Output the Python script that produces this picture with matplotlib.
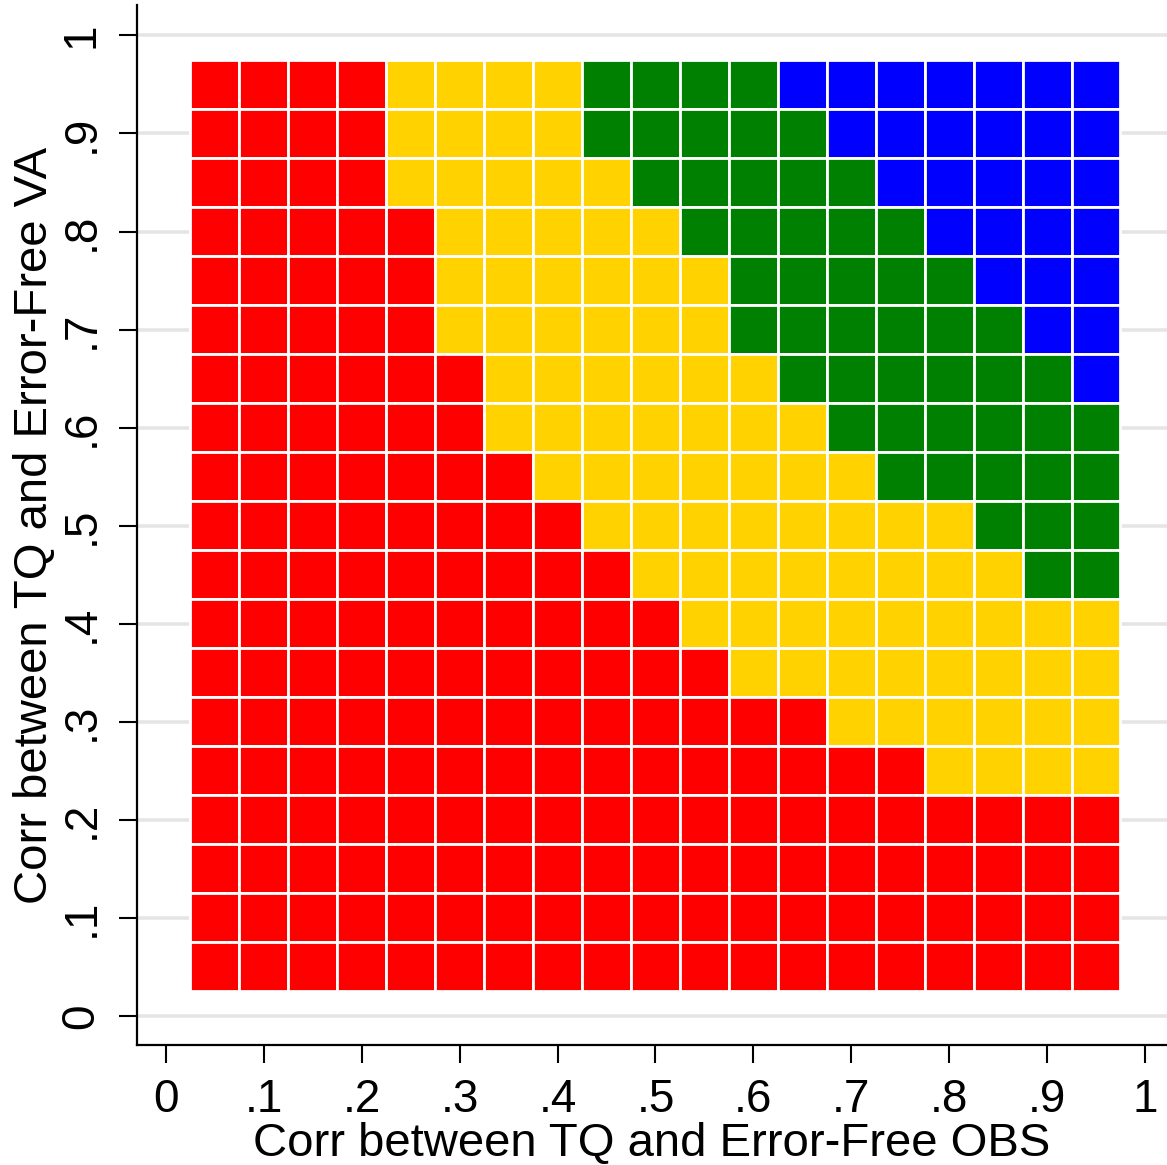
import numpy as np
import matplotlib
matplotlib.use('Agg')
import matplotlib.pyplot as plt

plt.rcParams['font.family'] = ['Liberation Sans', 'DejaVu Sans']

# cell centres on both axes
obs_vals = [0.05, 0.10, 0.15, 0.20, 0.25, 0.30, 0.35, 0.40, 0.45, 0.50,
            0.55, 0.60, 0.65, 0.70, 0.75, 0.80, 0.85, 0.90, 0.95]
va_vals = [0.95, 0.90, 0.85, 0.80, 0.75, 0.70, 0.65, 0.60, 0.55, 0.50,
           0.45, 0.40, 0.35, 0.30, 0.25, 0.20, 0.15, 0.10, 0.05]
# one string per VA row (top to bottom), one letter per OBS column
# R=red Y=yellow G=green B=blue
grid_rows = [
    "RRRRYYYYGGGGBBBBBBB",
    "RRRRYYYYGGGGGBBBBBB",
    "RRRRYYYYYGGGGGBBBBB",
    "RRRRRYYYYYGGGGGBBBB",
    "RRRRRYYYYYYGGGGGBBB",
    "RRRRRYYYYYYGGGGGGBB",
    "RRRRRRYYYYYYGGGGGGB",
    "RRRRRRYYYYYYYGGGGGG",
    "RRRRRRRYYYYYYYGGGGG",
    "RRRRRRRRYYYYYYYYGGG",
    "RRRRRRRRRYYYYYYYYGG",
    "RRRRRRRRRRYYYYYYYYY",
    "RRRRRRRRRRRYYYYYYYY",
    "RRRRRRRRRRRRRYYYYYY",
    "RRRRRRRRRRRRRRRYYYY",
    "RRRRRRRRRRRRRRRRRRR",
    "RRRRRRRRRRRRRRRRRRR",
    "RRRRRRRRRRRRRRRRRRR",
    "RRRRRRRRRRRRRRRRRRR",
]
tick_vals = [0, 0.1, 0.2, 0.3, 0.4, 0.5, 0.6, 0.7, 0.8, 0.9, 1]
tick_labels = ['0', '.1', '.2', '.3', '.4', '.5', '.6', '.7', '.8', '.9', '1']

colors = {'R': '#FF0000', 'Y': '#FFD200', 'G': '#008000', 'B': '#0000FF'}

fig = plt.figure(figsize=(11.67, 11.65), dpi=100)
ax = fig.add_axes([0.1174, 0.1030, 0.8826, 0.8927])

for yv, row in zip(va_vals, grid_rows):
    ax.bar(obs_vals, [0.05] * len(obs_vals), width=0.05, bottom=yv - 0.025,
           color=[colors[c] for c in row], edgecolor='white', linewidth=2.0,
           zorder=3)

ax.set_xlim(-0.0296, 1.0225)
ax.set_ylim(-0.0296, 1.031)

ax.set_xticks(tick_vals)
ax.set_xticklabels(tick_labels)
ax.set_yticks(tick_vals)
ax.set_yticklabels(tick_labels)

ax.grid(axis='y', color='#E5E5E5', linewidth=2.6, zorder=0)
ax.set_axisbelow(True)

for s in ['top', 'right']:
    ax.spines[s].set_visible(False)
for s in ['left', 'bottom']:
    ax.spines[s].set_linewidth(1.6)

ax.tick_params(axis='both', direction='out', length=13, width=1.5,
               labelsize=33, pad=11)
ax.tick_params(axis='y', labelrotation=90)
for lbl in ax.get_yticklabels():
    lbl.set_va('center')

ax.set_xlabel('Corr between TQ and Error-Free OBS', fontsize=34, labelpad=0)
ax.set_ylabel('Corr between TQ and Error-Free VA', fontsize=34, labelpad=2)

plt.savefig('out.png', dpi=100)
